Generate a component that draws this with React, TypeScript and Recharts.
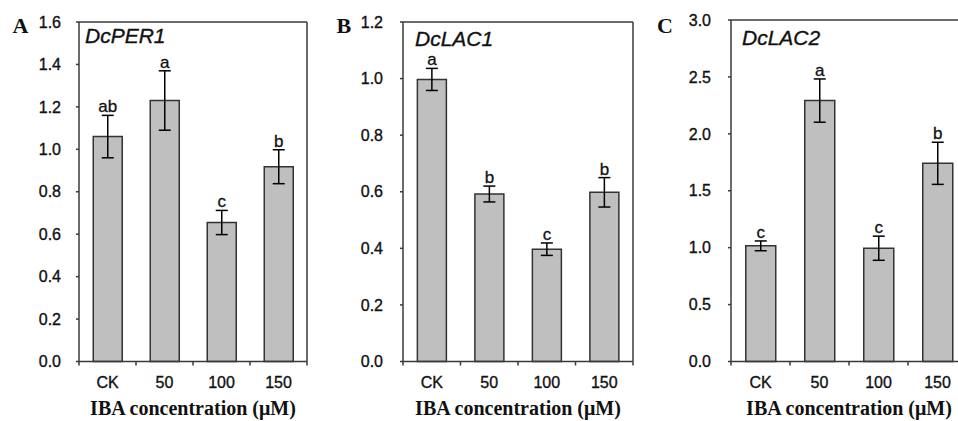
import React from 'react';
import { BarChart, Bar, XAxis, YAxis, ErrorBar, LabelList, ReferenceLine } from 'recharts';

const categories = ['CK', '50', '100', '150'];

const perValues = [1.06, 1.23, 0.655, 0.918];
const perErrors = [0.1, 0.14, 0.057, 0.08];
const perLetters = ['ab', 'a', 'c', 'b'];
const perTicks = [0, 0.2, 0.4, 0.6, 0.8, 1.0, 1.2, 1.4, 1.6];

const lac1Values = [0.997, 0.592, 0.397, 0.598];
const lac1Errors = [0.039, 0.028, 0.022, 0.052];
const lac1Letters = ['a', 'b', 'c', 'b'];
const lac1Ticks = [0, 0.2, 0.4, 0.6, 0.8, 1.0, 1.2];

const lac2Values = [1.016, 2.292, 0.995, 1.741];
const lac2Errors = [0.043, 0.19, 0.106, 0.185];
const lac2Letters = ['c', 'a', 'c', 'b'];
const lac2Ticks = [0, 0.5, 1.0, 1.5, 2.0, 2.5, 3.0];

const xTitle = 'IBA concentration (μM)';

const AX = '#3a3a3a';
const TXT = '#111';
const SANS = '"Liberation Sans", Arial, sans-serif';
const SERIF = '"Liberation Serif", "Times New Roman", serif';
const X_TICK_MARGIN = 15;

type PanelProps = {
  left: number;
  width: number;
  yAxisWidth: number;
  marginRight: number;
  top: number;
  values: number[];
  errors: number[];
  letters: string[];
  ticks: number[];
  tickMargin: number;
};

const CategoryTick = (props: any) => {
  const { x, y, payload, index, visibleTicksCount, width } = props;
  const half = payload && typeof payload.offset === 'number' && payload.offset > 0 ? payload.offset : width / visibleTicksCount / 2;
  const axisY = y - X_TICK_MARGIN;
  const isLast = index === visibleTicksCount - 1;
  return (
    <g>
      <line x1={x - half} x2={x - half} y1={axisY} y2={axisY + 4} stroke={AX} strokeWidth={1.5} />
      {isLast && <line x1={x + half} x2={x + half} y1={axisY} y2={axisY + 4} stroke={AX} strokeWidth={1.5} />}
      <text x={x} y={y} dy="0.71em" textAnchor="middle" fontFamily={SANS} fontSize={16} fill={TXT} stroke={TXT} strokeWidth={0.35}>
        {payload.value}
      </text>
    </g>
  );
};

const ValueTick = (props: any) => {
  const { x, y, payload } = props;
  return (
    <text x={x} y={y} dy="0.355em" textAnchor="end" fontFamily={SANS} fontSize={16} fill={TXT} stroke={TXT} strokeWidth={0.35}>
      {Number(payload.value).toFixed(1)}
    </text>
  );
};

function Panel(p: PanelProps) {
  const data = categories.map((c, i) => ({ name: c, value: p.values[i], err: p.errors[i], letter: p.letters[i] }));
  const yMax = p.ticks[p.ticks.length - 1];

  const renderLetter = (props: any) => {
    const { x, y, width, height, index } = props;
    const v = p.values[index];
    const e = p.errors[index];
    const errTop = y - (e * height) / v;
    return (
      <text
        x={x + width / 2}
        y={errTop - 3}
        textAnchor="middle"
        fontFamily={SANS}
        fontSize={17}
        fill={TXT}
        stroke={TXT}
        strokeWidth={0.3}
      >
        {p.letters[index]}
      </text>
    );
  };

  return (
    <div style={{ position: 'absolute', left: p.left, top: 0 }}>
      <BarChart
        width={p.width}
        height={421}
        data={data}
        margin={{ top: p.top, right: p.marginRight, bottom: 0, left: 0 }}
        barCategoryGap="25%"
      >
        <XAxis
          dataKey="name"
          type="category"
          interval={0}
          axisLine={{ stroke: AX, strokeWidth: 1.5 }}
          tickLine={false}
          tickSize={0}
          tickMargin={X_TICK_MARGIN}
          height={59.5}
          tick={<CategoryTick />}
          label={{
            value: xTitle,
            position: 'insideBottom',
            offset: 6,
            style: { fontFamily: SERIF, fontSize: 20, fontWeight: 'bold', fill: TXT, textAnchor: 'middle' },
          }}
        />
        <YAxis
          type="number"
          domain={[0, yMax]}
          ticks={p.ticks}
          interval={0}
          width={p.yAxisWidth}
          tickSize={3}
          tickMargin={p.tickMargin}
          axisLine={{ stroke: AX, strokeWidth: 1.5 }}
          tickLine={{ stroke: AX, strokeWidth: 1.5 }}
          tick={<ValueTick />}
        />
        <ReferenceLine y={yMax} stroke={AX} strokeWidth={1.5} />
        <ReferenceLine x={categories[categories.length - 1]} position="end" stroke={AX} strokeWidth={1.5} />
        <Bar dataKey="value" fill="#bfbfbf" stroke="#333" strokeWidth={1.5} isAnimationActive={false}>
          <ErrorBar dataKey="err" width={6} stroke="#000" strokeWidth={1.5} direction="y" />
          <LabelList dataKey="letter" content={renderLetter} />
        </Bar>
      </BarChart>
    </div>
  );
}

export default function App() {
  return (
    <div style={{ position: 'absolute', left: 0, top: 0, width: 958, height: 421, overflow: 'hidden', background: '#fff' }}>
      <Panel left={0} width={320} yAxisWidth={79} marginRight={13} top={22} values={perValues} errors={perErrors} letters={perLetters} ticks={perTicks} tickMargin={15} />
      <Panel left={320} width={320} yAxisWidth={83} marginRight={7} top={22} values={lac1Values} errors={lac1Errors} letters={lac1Letters} ticks={lac1Ticks} tickMargin={17} />
      <Panel left={640} width={340} yAxisWidth={91} marginRight={13} top={20} values={lac2Values} errors={lac2Errors} letters={lac2Letters} ticks={lac2Ticks} tickMargin={17} />
      <svg width={958} height={421} style={{ position: 'absolute', left: 0, top: 0, pointerEvents: 'none' }}>
        <text x={12.5} y={33} fontFamily={SERIF} fontWeight="bold" fontSize={22} fill={TXT}>A</text>
        <text x={336.5} y={33} fontFamily={SERIF} fontWeight="bold" fontSize={22} fill={TXT}>B</text>
        <text x={657} y={33} fontFamily={SERIF} fontWeight="bold" fontSize={22} fill={TXT}>C</text>
        <text x={85} y={43} fontFamily={SANS} fontStyle="italic" fontSize={21} fill={TXT} stroke={TXT} strokeWidth={0.35}>DcPER1</text>
        <text x={415} y={45.5} fontFamily={SANS} fontStyle="italic" fontSize={21} fill={TXT} stroke={TXT} strokeWidth={0.35}>DcLAC1</text>
        <text x={742} y={45} fontFamily={SANS} fontStyle="italic" fontSize={21} fill={TXT} stroke={TXT} strokeWidth={0.35}>DcLAC2</text>
      </svg>
    </div>
  );
}
